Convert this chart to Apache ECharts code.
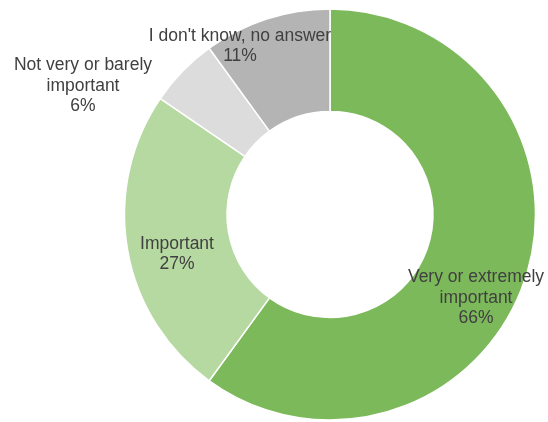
<!DOCTYPE html>
<html>
<head>
<meta charset="utf-8">
<script src="https://cdn.jsdelivr.net/npm/echarts@6/dist/echarts.min.js"></script>
<style>html,body{margin:0;padding:0;background:#fff}#c{width:548px;height:422px}</style>
</head>
<body>
<div id="c"></div>
<script>
const categories = ["Very or extremely\nimportant", "Important", "Not very or barely\nimportant", "I don't know, no answer"];
const values = [66, 27, 6, 11];
const percentLabels = ["66%", "27%", "6%", "11%"];
const colors = ["#7cb95a", "#b5d9a0", "#dcdcdc", "#b4b4b4"];
const labelPos = [[476, 298], [177, 254], [83, 86], [240, 46]];

const chart = echarts.init(document.getElementById('c'));
chart.setOption({
  animation: false,
  series: [{
    type: 'pie',
    center: [330, 214.5],
    radius: [103, 205.5],
    startAngle: 90,
    clockwise: true,
    data: categories.map((c, i) => ({ name: c, value: values[i], itemStyle: { color: colors[i] } })),
    itemStyle: { borderColor: '#ffffff', borderWidth: 1.5 },
    label: {
      show: true,
      position: 'inside',
      formatter: p => p.name + '\n' + percentLabels[p.dataIndex],
      color: '#404040',
      fontFamily: 'Liberation Sans, Arial, sans-serif',
      fontSize: 17.5,
      lineHeight: 20.5,
      align: 'center'
    },
    labelLine: { show: false },
    labelLayout: p => ({ x: labelPos[p.dataIndex][0], y: labelPos[p.dataIndex][1], align: 'center', verticalAlign: 'middle' }),
    emphasis: { disabled: true }
  }]
});
</script>
</body>
</html>
